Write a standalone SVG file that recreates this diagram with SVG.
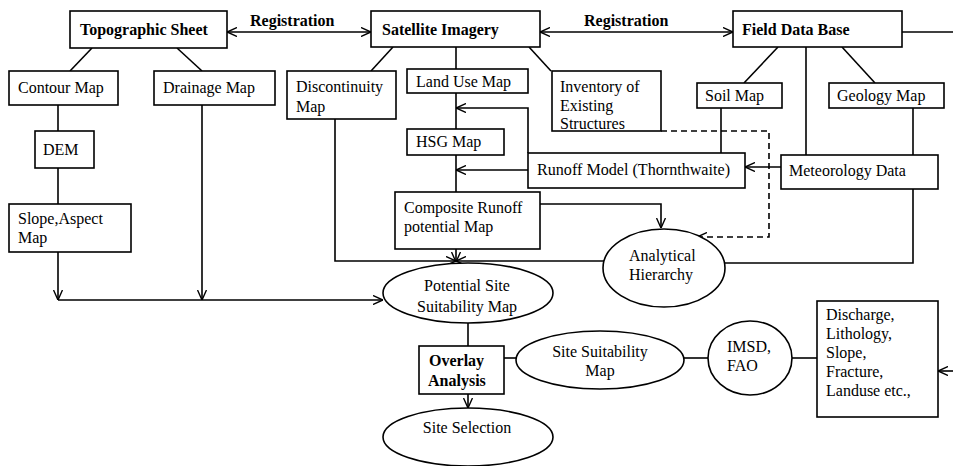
<svg xmlns="http://www.w3.org/2000/svg" width="953" height="466" viewBox="0 0 953 466">
<defs>
<marker id="arr" viewBox="0 0 10 10" refX="10" refY="5" markerUnits="userSpaceOnUse" markerWidth="10" markerHeight="10" orient="auto-start-reverse">
<path d="M0,0.5 L10,5 L0,9.5" fill="none" stroke="#000" stroke-width="1.4"/>
</marker>
</defs>
<style>
.n { fill: #fff; stroke: #000; stroke-width: 1.6; }
.c path { fill: none; stroke: #000; stroke-width: 1.6; }
.c .d { stroke-dasharray: 6 4; }
text { font-family: "Liberation Serif", "Times New Roman", serif; font-size: 16px; fill: #000; }
.b { font-weight: bold; }
.m { text-anchor: middle; }
</style>
<rect x="0" y="0" width="953" height="466" fill="#fff"/>
<g id="connectors" class="c">
<path d="M227,32 H371" marker-start="url(#arr)" marker-end="url(#arr)"/>
<path d="M540,32 H733" marker-start="url(#arr)" marker-end="url(#arr)"/>
<path d="M902,32 H953"/>
<path d="M92,48 L70,71"/>
<path d="M177,48 L202,71"/>
<path d="M393,47 L371,71"/>
<path d="M456,47 V69"/>
<path d="M529,47 L551,71"/>
<path d="M778,47 L744,83"/>
<path d="M842,47 L875,83"/>
<path d="M806,47 V155"/>
<path d="M913,108 V155"/>
<path d="M721,108 V153"/>
<path d="M58,105 V131"/>
<path d="M58,168 V204"/>
<path d="M58,252 V300" marker-end="url(#arr)"/>
<path d="M202,105 V300" marker-end="url(#arr)"/>
<path d="M58,300 H383" marker-end="url(#arr)"/>
<path d="M456,93 V129"/>
<path d="M528,153 V108 H456" marker-end="url(#arr)"/>
<path d="M456,155 V192"/>
<path d="M528,170 H456" marker-end="url(#arr)"/>
<path d="M781,167 H745" marker-end="url(#arr)"/>
<path d="M540,204 H661 V228" marker-end="url(#arr)"/>
<path class="d" d="M661,131 H769 V237 H697" marker-end="url(#arr)"/>
<path d="M335,119 V261 H456" marker-end="url(#arr)"/>
<path d="M605,261 H456" marker-end="url(#arr)"/>
<path d="M456,249 V262" marker-end="url(#arr)"/>
<path d="M913,189 V263 H725"/>
<path d="M468,323 V346"/>
<path d="M468,394 V408" marker-end="url(#arr)"/>
<path d="M504,358 H516"/>
<path d="M684,358 H708"/>
<path d="M792,358 H817"/>
<path d="M953,371 H938" marker-end="url(#arr)"/>
</g>
<g id="topographic-sheet"><rect class="n" x="70" y="11" width="157" height="37"/><text class="b" x="80" y="35">Topographic Sheet</text></g>
<g id="registration-1"><text class="b" x="250" y="26">Registration</text></g>
<g id="satellite-imagery"><rect class="n" x="371" y="11" width="169" height="36"/><text class="b" x="382" y="35">Satellite Imagery</text></g>
<g id="registration-2"><text class="b" x="584" y="26">Registration</text></g>
<g id="field-data-base"><rect class="n" x="733" y="11" width="169" height="36"/><text class="b" x="742" y="35">Field Data Base</text></g>
<g id="contour-map"><rect class="n" x="9" y="71" width="109" height="34"/><text x="18" y="93">Contour Map</text></g>
<g id="drainage-map"><rect class="n" x="154" y="71" width="121" height="34"/><text x="163" y="93">Drainage Map</text></g>
<g id="discontinuity-map"><rect class="n" x="287" y="71" width="109" height="48"/><text x="296" y="92">Discontinuity</text><text x="296" y="112">Map</text></g>
<g id="land-use-map"><rect class="n" x="407" y="69" width="121" height="24"/><text x="416" y="87">Land Use Map</text></g>
<g id="inventory"><rect class="n" x="552" y="71" width="109" height="60"/><text x="560" y="92">Inventory of</text><text x="560" y="111">Existing</text><text x="560" y="129">Structures</text></g>
<g id="soil-map"><rect class="n" x="697" y="83" width="85" height="25"/><text x="705" y="101">Soil Map</text></g>
<g id="geology-map"><rect class="n" x="829" y="83" width="115" height="25"/><text x="837" y="101">Geology Map</text></g>
<g id="dem"><rect class="n" x="35" y="131" width="59" height="37"/><text x="43" y="155">DEM</text></g>
<g id="slope-aspect-map"><rect class="n" x="9" y="204" width="122" height="48"/><text x="18" y="224">Slope,Aspect</text><text x="18" y="243">Map</text></g>
<g id="hsg-map"><rect class="n" x="407" y="129" width="97" height="26"/><text x="416" y="147">HSG Map</text></g>
<g id="runoff-model"><rect class="n" x="528" y="153" width="217" height="35"/><text x="537" y="175" textLength="193" lengthAdjust="spacingAndGlyphs">Runoff Model (Thornthwaite)</text></g>
<g id="meteorology-data"><rect class="n" x="781" y="155" width="157" height="34"/><text x="789" y="176">Meteorology Data</text></g>
<g id="composite-runoff"><rect class="n" x="395" y="192" width="145" height="57"/><text x="404" y="213">Composite Runoff</text><text x="404" y="232">potential Map</text></g>
<g id="analytical-hierarchy"><ellipse class="n" cx="664" cy="268" rx="61" ry="39"/><text x="629" y="261">Analytical</text><text x="629" y="280">Hierarchy</text></g>
<g id="potential-site"><ellipse class="n" cx="468" cy="293" rx="85" ry="30"/><text class="m" x="467" y="291">Potential Site</text><text class="m" x="467" y="312">Suitability Map</text></g>
<g id="overlay-analysis"><rect class="n" x="419" y="346" width="85" height="48"/><text class="b" x="429" y="366">Overlay</text><text class="b" x="428" y="386">Analysis</text></g>
<g id="site-suitability-map"><ellipse class="n" cx="600" cy="360" rx="84" ry="29"/><text class="m" x="600" y="357">Site Suitability</text><text class="m" x="600" y="376">Map</text></g>
<g id="imsd-fao"><ellipse class="n" cx="750" cy="358" rx="42" ry="37"/><text x="727" y="352">IMSD,</text><text x="727" y="371">FAO</text></g>
<g id="discharge"><rect class="n" x="817" y="301" width="121" height="116"/><text x="826" y="320">Discharge,</text><text x="826" y="339">Lithology,</text><text x="826" y="358">Slope,</text><text x="826" y="377">Fracture,</text><text x="826" y="396">Landuse etc.,</text></g>
<g id="site-selection"><ellipse class="n" cx="468" cy="437" rx="85" ry="29"/><text class="m" x="467" y="433">Site Selection</text></g>
</svg>
